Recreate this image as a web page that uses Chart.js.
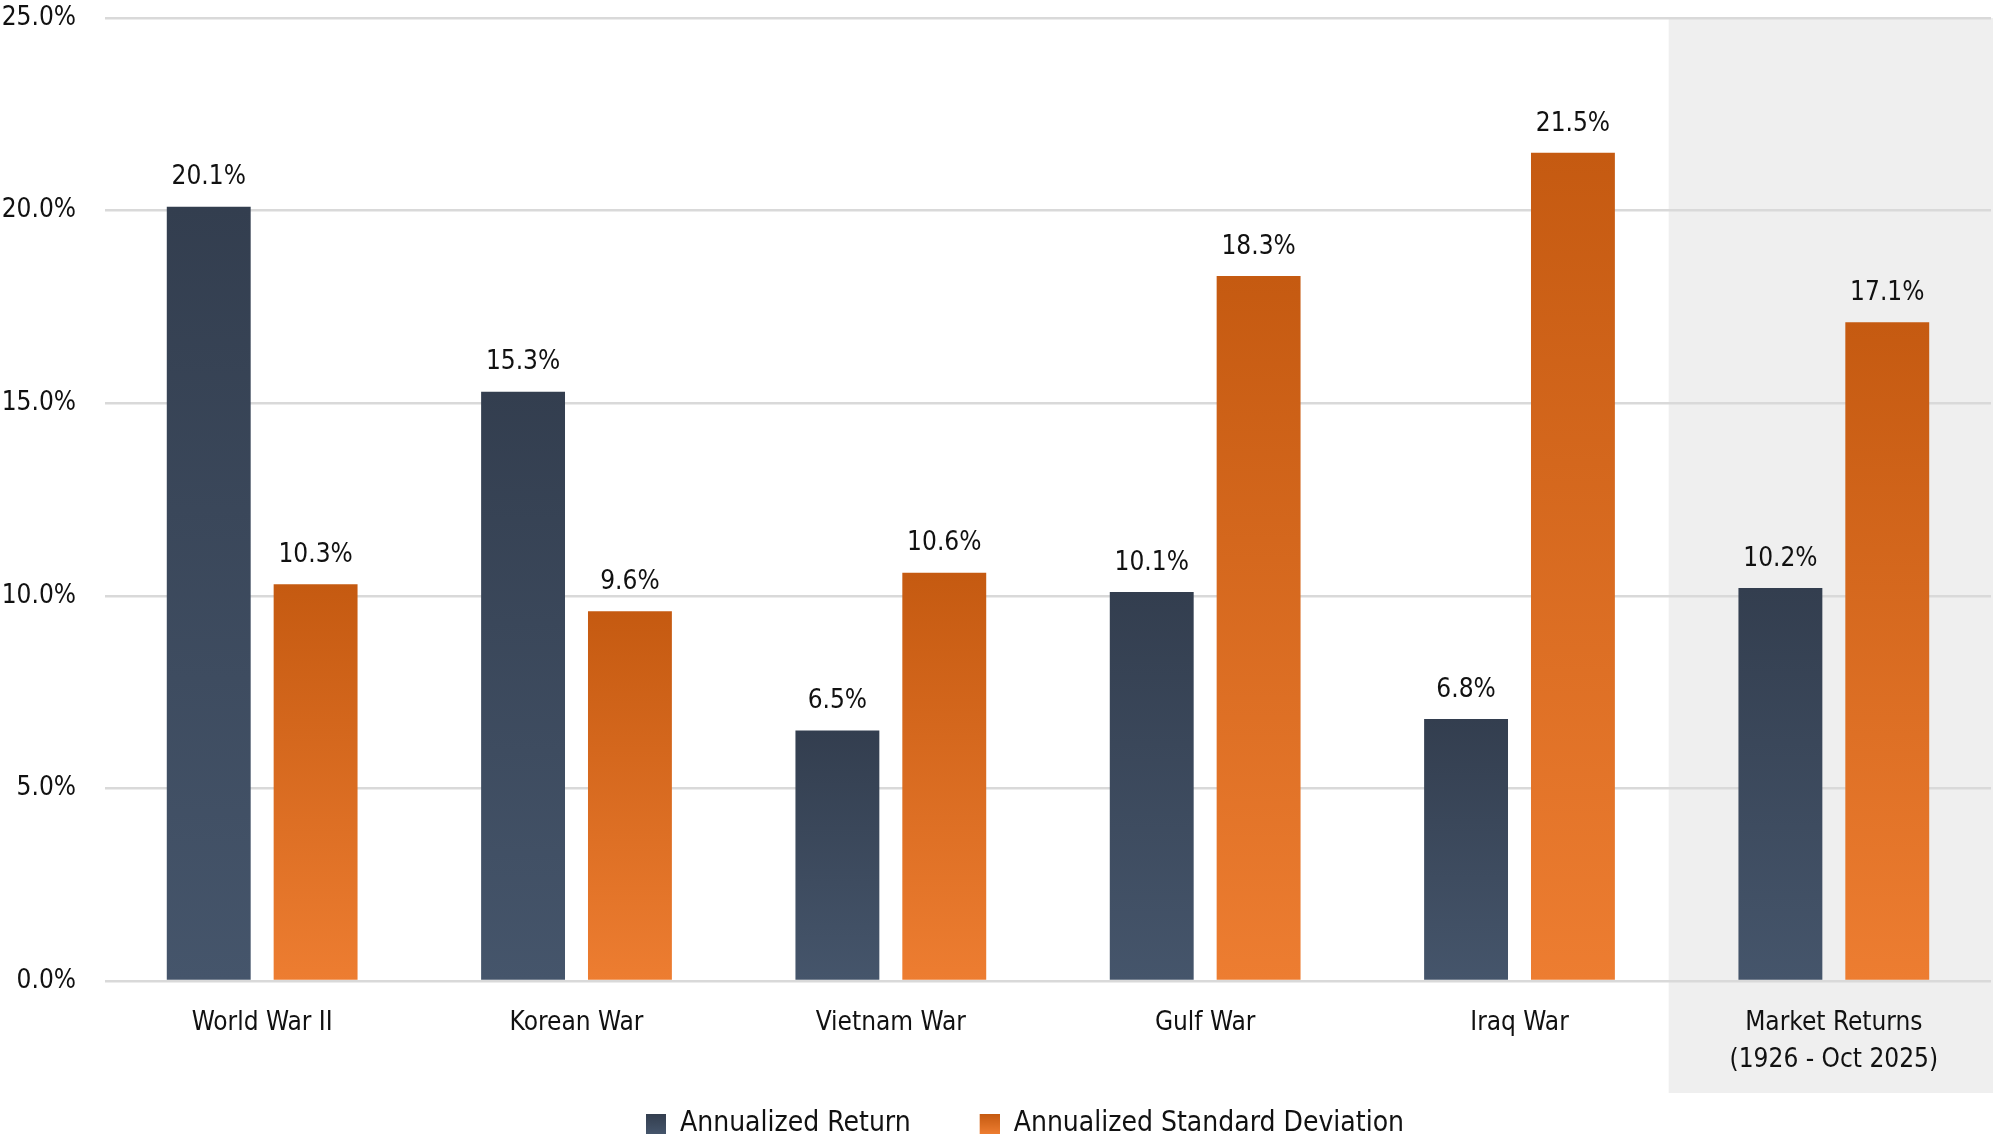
<!DOCTYPE html>
<html>
<head>
<meta charset="utf-8">
<script src="https://cdn.jsdelivr.net/npm/chart.js@4"></script>
<style>
  body { margin: 0; background: #fff; }
  #wrap { width: 1997px; height: 1138px; }
</style>
</head>
<body>
<div id="wrap"><canvas id="warChart" width="1997" height="1138"></canvas></div>
<script>
// Data
const categories = [
  "World War II",
  "Korean War",
  "Vietnam War",
  "Gulf War",
  "Iraq War",
  ["Market Returns", "(1926 - Oct 2025)"]
];
const annualizedReturn = [20.1, 15.3, 6.5, 10.1, 6.8, 10.2];
const annualizedStdDev = [10.3, 9.6, 10.6, 18.3, 21.5, 17.1];
const yTicks = [0, 5, 10, 15, 20, 25];

const FONT = "'Liberation Sans Narrow', 'DejaVu Sans Condensed', sans-serif";
const darkTop = "#333e4f", darkBottom = "#45556b";
const orangeTop = "#c55a11", orangeBottom = "#ed7d31";
const LEGEND_GAP = 59; // blank space left of each legend square

// gradient per bar, from its top to the baseline
function barGradient(top, bottom) {
  return function(context) {
    const chart = context.chart;
    const y = chart.scales.y;
    if (!y || context.raw === undefined) return bottom;
    const y0 = y.getPixelForValue(context.raw);
    const y1 = y.getPixelForValue(0);
    if (!isFinite(y0) || !isFinite(y1) || y0 === y1) return bottom;
    const g = chart.ctx.createLinearGradient(0, y0, 0, y1);
    g.addColorStop(0, top);
    g.addColorStop(1, bottom);
    return g;
  };
}

// gradient squares for the legend (with blank space on the left)
function legendBox(top, bottom) {
  const c = document.createElement("canvas");
  c.width = LEGEND_GAP + 20; c.height = 20;
  const cx = c.getContext("2d");
  const g = cx.createLinearGradient(0, 0, 0, 20);
  g.addColorStop(0, top);
  g.addColorStop(1, bottom);
  cx.fillStyle = g;
  cx.fillRect(LEGEND_GAP, 0, 20, 20);
  return c;
}

// grey panel behind the last group
const shadePlugin = {
  id: "shade",
  beforeDraw(chart) {
    const x = chart.scales.x;
    const ctx = chart.ctx;
    const half = (x.getPixelForValue(1) - x.getPixelForValue(0)) / 2;
    const left = x.getPixelForValue(categories.length - 1) - half - 8;
    const right = chart.chartArea.right + 2;
    ctx.save();
    ctx.fillStyle = "#efefef";
    ctx.fillRect(left, chart.chartArea.top, right - left, 1093 - chart.chartArea.top);
    ctx.restore();
  }
};

// value labels above the bars
const valueLabels = {
  id: "valueLabels",
  afterDatasetsDraw(chart) {
    const ctx = chart.ctx;
    ctx.save();
    ctx.font = "26px " + FONT;
    ctx.fillStyle = "#111";
    ctx.textAlign = "center";
    ctx.textBaseline = "middle";
    chart.data.datasets.forEach((ds, i) => {
      chart.getDatasetMeta(i).data.forEach((bar, j) => {
        ctx.fillText(ds.data[j].toFixed(1) + "%", bar.x, bar.y - 29);
      });
    });
    ctx.restore();
  }
};

const ctx = document.getElementById("warChart").getContext("2d");
new Chart(ctx, {
  type: "bar",
  data: {
    labels: categories,
    datasets: [
      {
        label: "Annualized Return",
        data: annualizedReturn,
        backgroundColor: barGradient(darkTop, darkBottom),
        pointStyle: legendBox(darkTop, darkBottom)
      },
      {
        label: "Annualized Standard Deviation",
        data: annualizedStdDev,
        backgroundColor: barGradient(orangeTop, orangeBottom),
        pointStyle: legendBox(orangeTop, orangeBottom)
      }
    ]
  },
  options: {
    responsive: false,
    animation: false,
    devicePixelRatio: 1,
    categoryPercentage: 0.68,
    barPercentage: 0.785,
    layout: { padding: { top: 18, right: 6, left: 0, bottom: -10 } },
    plugins: {
      legend: {
        position: "bottom",
        labels: {
          usePointStyle: true,
          pointStyleWidth: LEGEND_GAP + 20,
          boxWidth: 20,
          boxHeight: 20,
          padding: 10,
          color: "#111",
          font: { family: FONT, size: 28 }
        }
      },
      tooltip: { enabled: false }
    },
    scales: {
      x: {
        grid: { display: false },
        border: { display: false },
        ticks: {
          color: "#111",
          padding: 15,
          font: { family: FONT, size: 26, lineHeight: 1.45 },
          maxRotation: 0
        },
        afterFit(scale) { scale.height = 119; }
      },
      y: {
        min: 0,
        max: 25,
        afterBuildTicks(scale) {
          scale.ticks = yTicks.map(v => ({ value: v }));
        },
        grid: { color: "#d9d9d9", lineWidth: 2.5, drawTicks: false },
        border: { display: false },
        ticks: {
          color: "#111",
          padding: 29,
          font: { family: FONT, size: 26 },
          callback: v => v.toFixed(1) + "%"
        },
        afterFit(scale) {
          scale.width = 105;
          scale.paddingTop = 0;
          scale.paddingBottom = 0;
        }
      }
    }
  },
  plugins: [shadePlugin, valueLabels]
});
</script>
</body>
</html>
